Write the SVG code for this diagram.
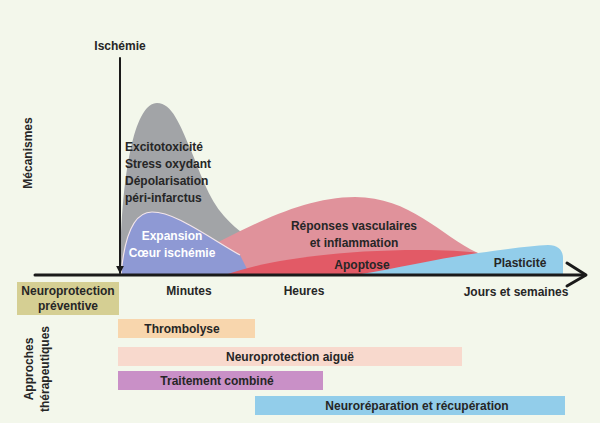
<svg xmlns="http://www.w3.org/2000/svg" width="600" height="423" viewBox="0 0 600 423">
<style>
text{font-family:"Liberation Sans",Arial,sans-serif;font-weight:bold;font-size:12px;fill:#262626}
.m{text-anchor:middle}
.w{fill:#ffffff}
.ax{stroke:#1a1a1a;fill:none;stroke-linecap:round;stroke-linejoin:round}
</style>
<defs>
<marker id="down" viewBox="0 0 10 10" refX="9" refY="5" markerWidth="4" markerHeight="4" orient="auto">
<path d="M0,0 L10,5 L0,10 Z" fill="#1a1a1a"/>
</marker>
</defs>
<rect width="600" height="423" fill="#f3f7eb"/>

<g id="excitotoxicite">
<path d="M120,275 C121,170 135,103 157,103 C172,103 180,125 190,148 C200,172 208,198 224,216 C238,232 258,245 285,258 L300,275 Z" fill="#a2a4a7"/>
<text x="125" y="151">Excitotoxicité</text>
<text x="125" y="168">Stress oxydant</text>
<text x="125" y="185">Dépolarisation</text>
<text x="125" y="202">péri-infarctus</text>
</g>

<g id="reponses">
<path d="M150,275 C200,258 280,197 355,197 C410,197 440,235 478,253 L490,275 Z" fill="#e0929b"/>
<text class="m" x="354" y="230">Réponses vasculaires</text>
<text class="m" x="354" y="247">et inflammation</text>
</g>

<g id="expansion">
<path d="M121,275 C124,240 132,212 152,212 C175,212 205,235 240,255 L250,275 Z" fill="#8e99d4"/>
<path d="M121,275 C124,240 132,212 152,212 C175,212 205,235 240,255" fill="none" stroke="#f4e6ea" stroke-width="1.2"/>
<text class="m w" x="172" y="240">Expansion</text>
<text class="m w" x="172" y="257">Cœur ischémie</text>
</g>

<g id="apoptose">
<path d="M225,275 C260,262 330,250 420,250 C445,250 465,251 478,253 L480,275 Z" fill="#e25a66"/>
<text class="m" x="362" y="269">Apoptose</text>
</g>

<g id="plasticite">
<path d="M355,275 C400,268 440,258 478,253 C505,249 530,246 548,245 C558,245 563,250 563,258 L563,275 Z" fill="#92cdea"/>
<text class="m" x="520" y="267">Plasticité</text>
</g>

<g id="axes">
<line class="ax" x1="35" y1="275" x2="585" y2="275" stroke-width="3"/>
<polyline class="ax" points="567,263 586,275 567,286" stroke-width="3"/>
<line class="ax" x1="120" y1="58" x2="120" y2="273" stroke-width="2" marker-end="url(#down)"/>
</g>

<g id="labels">
<text class="m" x="120" y="50">Ischémie</text>
<text class="m" transform="translate(32,153) rotate(-90)">Mécanismes</text>
<text class="m" x="189" y="295">Minutes</text>
<text class="m" x="304" y="295">Heures</text>
<text class="m" x="516" y="296">Jours et semaines</text>
<text class="m" transform="translate(33,369) rotate(-90)">Approches</text>
<text class="m" transform="translate(49,369) rotate(-90)">thérapeutiques</text>
</g>

<g id="neuroprotection-preventive">
<rect x="17" y="282" width="102" height="33" fill="#d5cf93"/>
<text class="m" x="68" y="295">Neuroprotection</text>
<text class="m" x="68" y="310">préventive</text>
</g>

<g id="thrombolyse">
<rect x="118" y="319" width="137" height="19" fill="#f8d6ad"/>
<text class="m" x="182" y="333">Thrombolyse</text>
</g>

<g id="neuroprotection-aigue">
<rect x="118" y="347" width="344" height="19" fill="#f8d9cd"/>
<text class="m" x="290" y="361">Neuroprotection aiguë</text>
</g>

<g id="traitement-combine">
<rect x="118" y="371" width="205" height="19" fill="#c990c7"/>
<text class="m" x="217" y="385">Traitement combiné</text>
</g>

<g id="neuroreparation">
<rect x="255" y="396" width="310" height="19" fill="#92cdea"/>
<text class="m" x="417" y="410">Neuroréparation et récupération</text>
</g>
</svg>
